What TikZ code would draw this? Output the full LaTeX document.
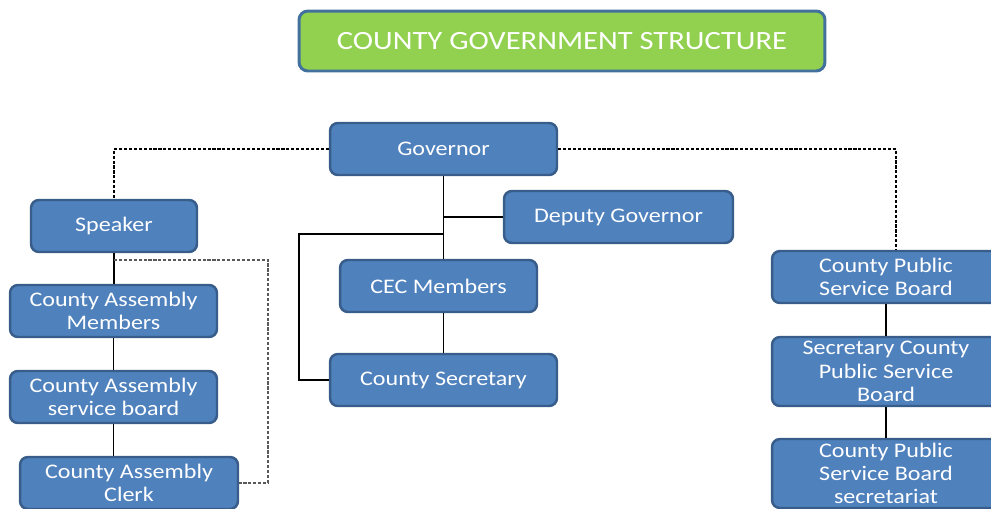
\documentclass[tikz,border=0pt]{standalone}
\usepackage{fontspec}
\setmainfont{Carlito}[FakeStretch=1.16]
\usetikzlibrary{positioning}
\definecolor{boxfill}{HTML}{4F81BD}
\definecolor{boxline}{HTML}{385D8A}
\definecolor{titlefill}{HTML}{92D050}
\definecolor{titleline}{HTML}{41719C}
\definecolor{clerkdash}{HTML}{595959}

\tikzset{
  post/.style={draw=boxline,fill=boxfill,line width=1.4pt,rounded corners=4.5pt,
    text=white,align=center,inner sep=0pt,minimum height=1.04cm,
    font=\fontsize{11.8}{13.3}\selectfont},
  link/.style={line width=0.7pt},
  dotlink/.style={line width=0.7pt,dash pattern=on 1.8pt off 1pt}
}

\begin{document}
\begin{tikzpicture}[x=0.02cm,y=-0.02cm]
  \clip (0,0) rectangle (991,508);
  \node[draw=titleline,fill=titlefill,line width=1.7pt,rounded corners=5pt,text=white,
    minimum width=10.52cm,minimum height=1.2cm,font=\fontsize{15}{18}\selectfont]
    (title) at (562,41) {COUNTY GOVERNMENT STRUCTURE};

  % executive
  \node[post,minimum width=4.54cm] (gov) at (443.5,149) {Governor};
  \node[post,minimum width=4.58cm] (deputy) at (618.5,217) {Deputy Governor};
  \node[post,minimum width=3.94cm] (cec) at (438.5,286) {CEC Members};
  \node[post,minimum width=4.54cm] (cntysec) at (443.5,380) {County Secretary};

  % assembly
  \node[post,minimum width=3.32cm] (speaker) at (114,226) {Speaker};
  \node[post,minimum width=4.14cm] (asmmem) at (113.5,311) {County Assembly\\Members};
  \node[post,minimum width=4.14cm] (asmboard) at (113.5,397) {County Assembly\\service board};
  \node[post,minimum width=4.36cm] (clerk) at (129,483) {County Assembly\\Clerk};

  % public service board
  \node[post,minimum width=4.56cm] (psb) at (886,277) {County Public\\Service Board};
  \node[post,minimum width=4.56cm,minimum height=1.38cm] (psbsec) at (886,371.5)
    {Secretary County\\Public Service\\Board};
  \node[post,minimum width=4.56cm,minimum height=1.38cm] (psbstaff) at (886,473.5)
    {County Public\\Service Board\\secretariat};

  \coordinate (deptap) at (443,217);
  \coordinate (sectap) at (443,234);
  \coordinate (secbend) at (299,234);
  \coordinate (spktap) at (114,260);
  \coordinate (clkbend) at (268,260);

  \draw[dotlink] (gov.west) -| (speaker.north);
  \draw[dotlink] (gov.east) -| ([xshift=0.2cm]psb.north);
  \draw[link] (gov.south) -- (gov.south |- cec.north);
  \draw[link] (deputy.west) -- (deptap);
  \draw[link] (sectap) -- (secbend) |- (cntysec.west);
  \draw[link] (cntysec.north) -- (cntysec.north |- cec.south);

  \draw[link] (speaker.south) -- (speaker.south |- asmmem.north);
  \draw[link] (asmmem.south) -- (asmboard.north);
  \draw[link] (asmboard.south) -- (asmboard.south |- clerk.north);
  \draw[dotlink,clerkdash] (spktap) -- (clkbend) |- (clerk.east);

  \draw[link] (psb.south) -- (psbsec.north);
  \draw[link] (psbsec.south) -- (psbstaff.north);
\end{tikzpicture}
\end{document}
